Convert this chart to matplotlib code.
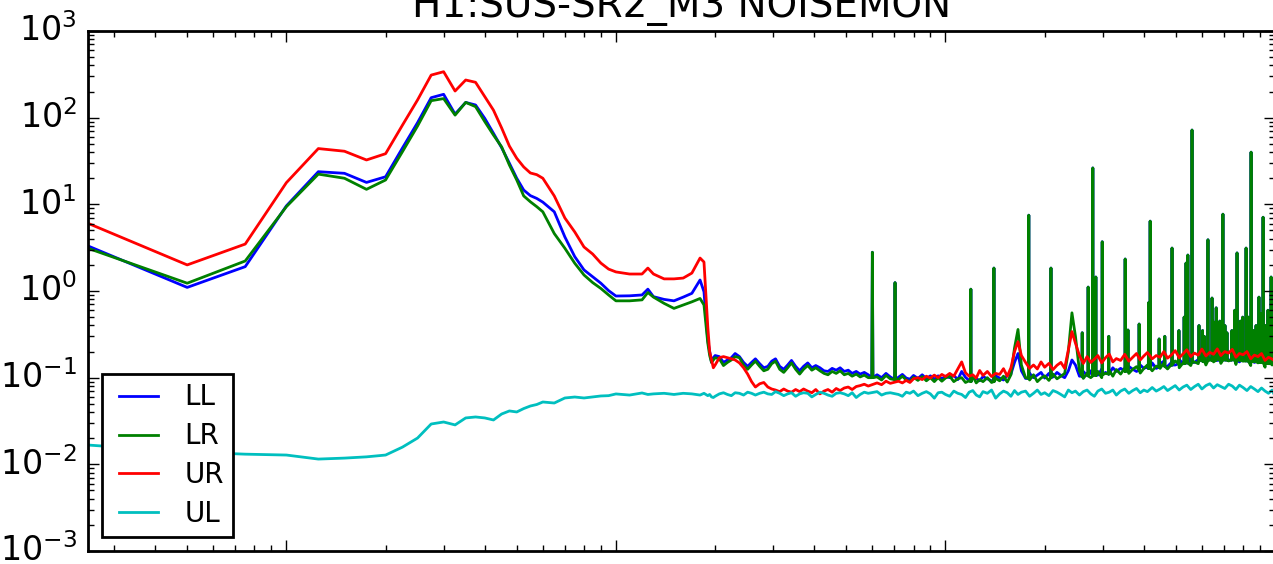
import numpy as np
import matplotlib
matplotlib.use('Agg')
import matplotlib.pyplot as plt

plt.style.use('classic')

# ASD of the four coil-driver noise monitors, 0.25 Hz bins
DF = 0.25

# below 19 Hz
f_low = [0.25, 0.5, 0.75, 1.0, 1.25, 1.5, 1.75, 2.0, 2.25, 2.5, 2.75, 3.0,
         3.25, 3.5, 3.75, 4.0, 4.25, 4.5, 4.75, 5.0, 5.25, 5.5, 5.75, 6.0,
         6.5, 7.0, 7.5, 8.0, 8.5, 9.0, 9.5, 10.0, 11.0, 12.0, 12.5, 13.0,
         14.0, 15.0, 16.0, 17.0, 18.0, 18.5, 19.0]
ll_low = [3.31, 1.10, 1.91, 9.6, 23.8, 22.8, 17.9, 20.8, 44.7, 87.5, 170, 186,
          110, 150, 140, 98, 66, 45, 29.8, 20, 14.6, 12.6, 11.7, 10.6,
          8.2, 4.2, 2.49, 1.75, 1.46, 1.23, 1.01, 0.875, 0.88, 0.90, 1.05, 0.86,
          0.80, 0.77, 0.85, 0.94, 1.34, 0.98, 0.27]
lr_low = [3.11, 1.23, 2.22, 9.4, 22.3, 20.0, 14.9, 19.1, 40.5, 80, 157, 166,
          107, 150, 134, 90, 63, 46, 28.4, 19.1, 12.5, 10.7, 9.4, 8.2,
          4.6, 3.11, 2.09, 1.53, 1.25, 1.07, 0.90, 0.77, 0.77, 0.79, 0.96, 0.85,
          0.72, 0.63, 0.69, 0.75, 0.82, 0.69, 0.25]
ur_low = [6.04, 2.0, 3.48, 17.8, 44, 41, 32.5, 38.4, 82, 160, 310, 339,
          203, 272, 256, 175, 122, 76, 47, 34, 27, 23, 22, 20,
          12.5, 6.95, 4.8, 3.22, 2.67, 2.1, 1.79, 1.66, 1.57, 1.57, 1.84, 1.57,
          1.38, 1.38, 1.41, 1.61, 2.40, 2.16, 0.385]
ul_low = [0.0167, 0.0139, 0.0131, 0.0128, 0.0115, 0.0118, 0.0122, 0.0128,
          0.0158, 0.0201, 0.0292, 0.0308, 0.0285, 0.0343, 0.0352, 0.0343,
          0.0325, 0.0381, 0.0413, 0.0402, 0.044, 0.0471, 0.049, 0.0524,
          0.051, 0.0583, 0.0598, 0.0583, 0.060, 0.0615, 0.062, 0.0649,
          0.063, 0.0666, 0.064, 0.065, 0.066, 0.064, 0.066, 0.065, 0.063,
          0.066, 0.062]

# above 19 Hz (floor, without the narrow lines)
f_hi = [19.25, 19.5, 19.75, 20.0,
        20.6, 21.2, 21.8, 22.4, 23.0, 23.7, 24.4, 25.1, 25.8, 26.5,
        27.3, 28.1, 28.9, 29.7, 30.5, 31.4, 32.3, 33.2, 34.1, 35.1,
        36.1, 37.1, 38.2, 39.3, 40.4, 41.6, 42.8, 44.0, 45.3, 46.6,
        47.9, 49.3, 50.7, 52.1, 53.6, 55.1, 56.7, 58.3,
        62, 64, 66, 68, 72, 74, 76, 78, 80, 82.5,
        85, 87.5, 90, 92.5, 95, 97.5, 100,
        103, 106, 109, 112, 115, 118, 121, 124, 127, 130,
        134, 138, 142, 146, 150, 154, 158, 162, 166, 170,
        175, 180, 185, 190, 195, 200,
        206, 212, 218, 224, 230, 236, 242, 248, 255, 262,
        269, 276, 283, 290, 298, 306, 314, 322, 330, 340,
        350, 360, 370, 380, 390, 400,
        410, 424, 436, 448, 460, 472, 485, 498, 512, 526,
        540, 555, 570, 585, 600, 617, 634, 651, 668, 685,
        704, 723, 742, 761, 780, 800, 822, 844, 866, 888,
        910, 933, 956, 980, 1000]

ll_hi = [0.2, 0.15, 0.17, 0.18,
         0.175, 0.15, 0.16, 0.17, 0.19, 0.175, 0.15, 0.135, 0.15, 0.165,
         0.145, 0.13, 0.135, 0.155, 0.165, 0.135, 0.125, 0.14, 0.158, 0.135,
         0.12, 0.135, 0.148, 0.13, 0.138, 0.13, 0.12, 0.118, 0.128, 0.122,
         0.13, 0.118, 0.122, 0.112, 0.118, 0.11, 0.115, 0.108,
         0.108, 0.1, 0.112, 0.102, 0.101, 0.109, 0.099, 0.096, 0.106, 0.098,
         0.108, 0.097, 0.105, 0.096, 0.105, 0.097, 0.104,
         0.1, 0.106, 0.095, 0.118, 0.101, 0.093, 0.104, 0.098, 0.092, 0.103,
         0.097, 0.092, 0.105, 0.099, 0.094, 0.106, 0.11, 0.15, 0.19, 0.12,
         0.098, 0.112, 0.1, 0.107, 0.115, 0.099,
         0.112, 0.102, 0.115, 0.106, 0.1, 0.12, 0.16, 0.14, 0.104, 0.118,
         0.106, 0.12, 0.124, 0.107, 0.125, 0.115, 0.112, 0.13, 0.118, 0.128,
         0.12, 0.135, 0.125, 0.118, 0.14, 0.128,
         0.133, 0.148, 0.128, 0.145, 0.155, 0.135, 0.15, 0.14, 0.162, 0.145,
         0.148, 0.17, 0.15, 0.162, 0.175, 0.155, 0.168, 0.18, 0.158, 0.17,
         0.178, 0.16, 0.168, 0.176, 0.152, 0.17, 0.162, 0.174, 0.15, 0.16,
         0.165, 0.148, 0.158, 0.145, 0.14]

lr_hi = [0.18, 0.15, 0.16, 0.17,
         0.165, 0.138, 0.15, 0.16, 0.175, 0.17, 0.14, 0.125, 0.14, 0.155,
         0.135, 0.12, 0.125, 0.145, 0.155, 0.125, 0.115, 0.13, 0.148, 0.125,
         0.11, 0.125, 0.138, 0.122, 0.13, 0.12, 0.112, 0.108, 0.118, 0.112,
         0.12, 0.108, 0.112, 0.104, 0.11, 0.102, 0.107, 0.1,
         0.102, 0.094, 0.106, 0.097, 0.095, 0.104, 0.094, 0.09, 0.101, 0.093,
         0.103, 0.092, 0.1, 0.09, 0.1, 0.091, 0.099,
         0.104, 0.09, 0.097, 0.1, 0.088, 0.092, 0.104, 0.087, 0.095, 0.09,
         0.1, 0.088, 0.098, 0.092, 0.104, 0.089, 0.108, 0.22, 0.36, 0.14,
         0.1, 0.094, 0.108, 0.09, 0.099, 0.105,
         0.093, 0.11, 0.097, 0.104, 0.112, 0.2, 0.56, 0.3, 0.12, 0.098,
         0.112, 0.1, 0.108, 0.118, 0.1, 0.112, 0.122, 0.104, 0.124, 0.11,
         0.128, 0.112, 0.125, 0.134, 0.113, 0.128,
         0.14, 0.12, 0.136, 0.128, 0.148, 0.126, 0.142, 0.156, 0.13, 0.148,
         0.16, 0.138, 0.152, 0.145, 0.168, 0.14, 0.16, 0.152, 0.172, 0.146,
         0.165, 0.156, 0.175, 0.142, 0.162, 0.155, 0.168, 0.138, 0.155, 0.148,
         0.16, 0.132, 0.145, 0.14, 0.15]

ur_hi = [0.2, 0.16, 0.13, 0.14,
         0.17, 0.175, 0.17, 0.165, 0.16, 0.148, 0.13, 0.11, 0.09, 0.078,
         0.085, 0.088, 0.078, 0.074, 0.072, 0.069, 0.074, 0.07, 0.068, 0.073,
         0.069, 0.074, 0.07, 0.067, 0.073, 0.065, 0.07, 0.073, 0.068, 0.075,
         0.071, 0.076, 0.078, 0.073, 0.079, 0.081, 0.084, 0.08,
         0.087, 0.083, 0.091, 0.086, 0.091, 0.087, 0.093, 0.088, 0.097, 0.1,
         0.095, 0.104, 0.099, 0.107, 0.1, 0.109, 0.103,
         0.112, 0.104, 0.126, 0.152, 0.114, 0.104, 0.108, 0.099, 0.121, 0.106,
         0.118, 0.103, 0.112, 0.109, 0.127, 0.104, 0.13, 0.2, 0.26, 0.18,
         0.15, 0.128, 0.14, 0.126, 0.152, 0.132,
         0.146, 0.124, 0.139, 0.15, 0.128, 0.21, 0.34, 0.25, 0.18, 0.146,
         0.175, 0.15, 0.163, 0.18, 0.148, 0.17, 0.187, 0.152, 0.166, 0.158,
         0.186, 0.155, 0.172, 0.19, 0.16, 0.178,
         0.195, 0.165, 0.18, 0.172, 0.2, 0.168, 0.183, 0.205, 0.17, 0.188,
         0.21, 0.175, 0.192, 0.182, 0.214, 0.178, 0.196, 0.186, 0.215, 0.18,
         0.2, 0.192, 0.212, 0.172, 0.19, 0.184, 0.2, 0.165, 0.182, 0.175,
         0.19, 0.158, 0.172, 0.164, 0.155]

ul_hi = [0.064, 0.06, 0.059, 0.061,
         0.065, 0.067, 0.064, 0.062, 0.067, 0.066, 0.063, 0.068, 0.066, 0.063,
         0.066, 0.068, 0.065, 0.064, 0.069, 0.066, 0.062, 0.065, 0.067, 0.061,
         0.065, 0.067, 0.066, 0.06, 0.064, 0.068, 0.066, 0.063, 0.061, 0.066,
         0.067, 0.065, 0.062, 0.067, 0.059, 0.064, 0.068, 0.066,
         0.069, 0.063, 0.066, 0.067, 0.064, 0.061, 0.068, 0.066, 0.07, 0.062,
         0.066, 0.069, 0.065, 0.058, 0.067, 0.068, 0.064,
         0.061, 0.07, 0.066, 0.064, 0.059, 0.068, 0.071, 0.063, 0.06, 0.069,
         0.066, 0.072, 0.058, 0.065, 0.07, 0.067, 0.061, 0.071, 0.064, 0.068,
         0.07, 0.061, 0.066, 0.072, 0.064, 0.067,
         0.062, 0.071, 0.068, 0.064, 0.06, 0.072, 0.067, 0.07, 0.063, 0.069,
         0.072, 0.065, 0.061, 0.07, 0.074, 0.066, 0.068, 0.072, 0.063, 0.07,
         0.074, 0.066, 0.071, 0.075, 0.067, 0.072,
         0.069, 0.077, 0.07, 0.074, 0.079, 0.071, 0.076, 0.081, 0.072, 0.078,
         0.082, 0.073, 0.079, 0.084, 0.074, 0.081, 0.085, 0.076, 0.083, 0.079,
         0.075, 0.084, 0.08, 0.073, 0.082, 0.077, 0.071, 0.079, 0.074, 0.069,
         0.076, 0.07, 0.066, 0.072, 0.061]

# narrow lines in the lower coils (mains harmonics etc.)
line_freqs = [60, 70.3, 119.4, 140.3, 179, 209, 260, 271, 280, 286,
              299, 313, 351, 358, 387, 413, 418, 445, 463, 487,
              511, 530, 537, 544, 560, 588, 603, 610, 626, 644,
              648, 663, 680, 695, 705, 715, 740, 755, 767, 785,
              798, 817, 830, 846, 860, 876, 894, 905, 920, 935,
              952, 973, 990]
line_base = [0.1, 0.095, 0.09, 0.09, 0.098, 0.1, 0.104, 0.105, 0.105, 0.106,
             0.108, 0.11, 0.118, 0.12, 0.122, 0.128, 0.128, 0.132, 0.135, 0.14,
             0.145, 0.145, 0.148, 0.148, 0.15, 0.155, 0.155, 0.156, 0.157, 0.158,
             0.158, 0.16, 0.16, 0.16, 0.16, 0.16, 0.16, 0.158, 0.158, 0.157,
             0.157, 0.156, 0.155, 0.155, 0.153, 0.153, 0.152, 0.15, 0.15, 0.148,
             0.147, 0.145, 0.145]
line_peaks = [2.8, 1.25, 1.05, 1.84, 7.5, 1.84, 0.33, 1.11, 26.3, 1.45,
              3.7, 0.3, 2.34, 0.355, 0.416, 0.73, 6.4, 0.28, 0.3, 3.13,
              0.35, 0.5, 2.1, 2.6, 72, 0.4, 0.35, 0.3, 3.9, 0.83,
              0.45, 0.64, 0.45, 7.7, 0.4, 0.33, 0.35, 0.6, 2.75, 0.45,
              0.5, 3.13, 0.5, 40, 0.35, 0.4, 0.85, 0.55, 7.1, 0.4,
              0.6, 1.45, 0.5]


def build(v_low, v_hi, lines=False):
    pts = list(zip(f_low, v_low)) + list(zip(f_hi, v_hi))
    if lines:
        for fc, b, p in zip(line_freqs, line_base, line_peaks):
            pts += [(fc - DF, b), (fc, p), (fc + DF, b)]
    pts.sort()
    arr = np.array(pts)
    return arr[:, 0], arr[:, 1]


fig = plt.figure(figsize=(6.365, 2.82), dpi=200)
ax = fig.add_axes([88 / 1273, 13 / 564, 1187 / 1273, 520 / 564])

f, v = build(ll_low, ll_hi, lines=True)
ax.loglog(f, v, color='b', label='LL')
f, v = build(lr_low, lr_hi, lines=True)
ax.loglog(f, v, color='g', label='LR')
f, v = build(ur_low, ur_hi)
ax.loglog(f, v, color='r', label='UR')
f, v = build(ul_low, ul_hi)
ax.loglog(f, v, color='c', label='UL')

ax.set_xlim(0.25, 1000)
ax.set_ylim(1e-3, 1e3)
ax.tick_params(labelsize=12, labelbottom=False)
ax.set_title('H1:SUS-SR2_M3 NOISEMON', fontsize=14, pad=5)
ax.legend(loc='lower left', fontsize=10, labelspacing=0.39, borderpad=0.33,
          handletextpad=0.65)

fig.savefig('out.png', dpi=200)
